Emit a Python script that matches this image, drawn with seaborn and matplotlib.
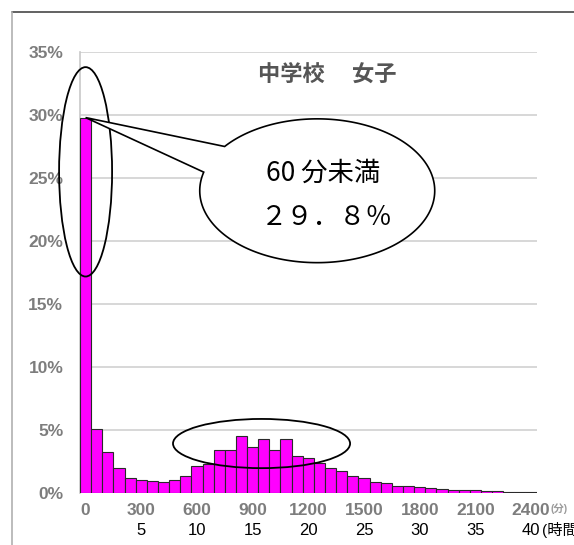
import numpy as np
import pandas as pd
import matplotlib
matplotlib.use("Agg")
import matplotlib.pyplot as plt
import matplotlib.transforms as mtransforms
from matplotlib.patches import Ellipse, Polygon
from matplotlib.lines import Line2D
import seaborn as sns

# Distribution of weekly exercise time (minutes, 60-minute bins)
minutes = list(range(0, 2401, 60))
share_pct = [29.8, 5.1, 3.3, 2.0, 1.25, 1.05, 0.98, 0.9, 1.1, 1.35,
             2.2, 2.35, 3.45, 3.45, 4.55, 3.7, 4.3, 3.45, 4.35, 3.0,
             2.85, 2.45, 2.0, 1.8, 1.4, 1.22, 0.92, 0.85, 0.62, 0.6,
             0.5, 0.42, 0.34, 0.29, 0.28, 0.24, 0.18, 0.16, 0.15, 0.12,
             0.1]
tick_minutes = [0, 300, 600, 900, 1200, 1500, 1800, 2100, 2400]
hour_labels = [5, 10, 15, 20, 25, 30, 35, 40]
y_ticks = [0, 5, 10, 15, 20, 25, 30, 35]
title_text = "中学校　 女子"
callout_head = "60 分未満"

sns.set_style("white")
plt.rcParams["font.family"] = ["Liberation Sans", "Noto Sans CJK JP"]

fig = plt.figure(figsize=(5.74, 5.45), dpi=100)
ax = fig.add_axes([0.1394, 0.0945, 0.7955, 0.8101])

df = pd.DataFrame({"minutes": minutes, "share": share_pct})
sns.barplot(data=df, x="minutes", y="share", order=minutes, color="#ff00ff",
            saturation=1, width=1.0, edgecolor="#2a2a2a", linewidth=0.8,
            ax=ax, zorder=3)

ax.set_xlim(-0.5, len(minutes) - 0.5)
ax.set_ylim(0, 35)
ax.set_xlabel("")
ax.set_ylabel("")

ax.set_yticks(y_ticks)
ax.set_yticklabels([f"{v}%" for v in y_ticks])
ax.yaxis.grid(True, color="#d4d4d4", linewidth=1.3)
ax.xaxis.grid(False)
ax.set_axisbelow(True)

ax.set_xticks([minutes.index(m) for m in tick_minutes])
ax.set_xticklabels([str(m) for m in tick_minutes])
ax.tick_params(axis="x", length=0, pad=7, labelsize=12.5, labelcolor="#7d7d7d")
ax.tick_params(axis="y", length=0, pad=12, labelsize=12.5, labelcolor="#7d7d7d")
for lbl in ax.get_xticklabels() + ax.get_yticklabels():
    lbl.set_fontweight("bold")

for side in ("top", "right", "bottom"):
    ax.spines[side].set_visible(False)
ax.spines["left"].set_color("#c8c8c8")
ax.spines["left"].set_linewidth(1.2)

# second row of x labels: hours
blend = mtransforms.blended_transform_factory(ax.transData, ax.transAxes)
for h in hour_labels:
    ax.text(minutes.index(h * 60), -0.083, str(h), transform=blend,
            ha="center", va="center", fontsize=12, color="black")
ax.text(40.98, -0.083, "(時間)", transform=blend, ha="left", va="center",
        fontsize=11, color="black")
ax.text(41.75, -0.035, "(分)", transform=blend, ha="left", va="center",
        fontsize=7.5, color="#9a9a9a", fontweight="bold")

# title inside the plot
ax.text(21.7, 33.2, title_text, ha="center", va="center", fontsize=16,
        color="#555555", fontweight="bold", family=["Noto Sans CJK JP"])

# ellipses highlighting regions
ax.add_patch(Ellipse((0, 25.5), 4.76, 16.6, fill=False, edgecolor="black",
                     linewidth=1.3, zorder=5, clip_on=False))
ax.add_patch(Ellipse((15.8, 3.96), 15.9, 3.9, fill=False, edgecolor="black",
                     linewidth=1.3, zorder=5, clip_on=False))

# speech-bubble callout pointing at the first bar
cx, cy, a, b = 20.8, 24.0, 10.55, 5.7
tip = (0, share_pct[0])
ang = np.radians(np.linspace(142, 165 - 360, 240))
pts = [tip] + list(zip(cx + a * np.cos(ang), cy + b * np.sin(ang))) + [tip]
ax.add_patch(Polygon(pts, closed=True, facecolor="white", edgecolor="black",
                     linewidth=1.2, zorder=5, clip_on=False))

full_width = str.maketrans("0123456789.%", "０１２３４５６７８９．％")
value_text = f"{share_pct[0]:.1f}%".translate(full_width)
ax.text(21.3, 25.4, callout_head, ha="center", va="center", fontsize=19,
        color="black", zorder=6, family=["Noto Sans CJK JP"])
ax.text(21.7, 21.9, value_text, ha="center", va="center", fontsize=19,
        color="black", zorder=6, family=["Noto Sans CJK JP"])

# outer frame lines
fig.add_artist(Line2D([12 / 574, 1], [1 - 11.5 / 545] * 2,
                      transform=fig.transFigure, color="#555555", linewidth=1.3))
fig.add_artist(Line2D([12 / 574] * 2, [0, 1 - 11.5 / 545],
                      transform=fig.transFigure, color="#b0b0b0", linewidth=1.2))

fig.savefig("out.png", dpi=100)
